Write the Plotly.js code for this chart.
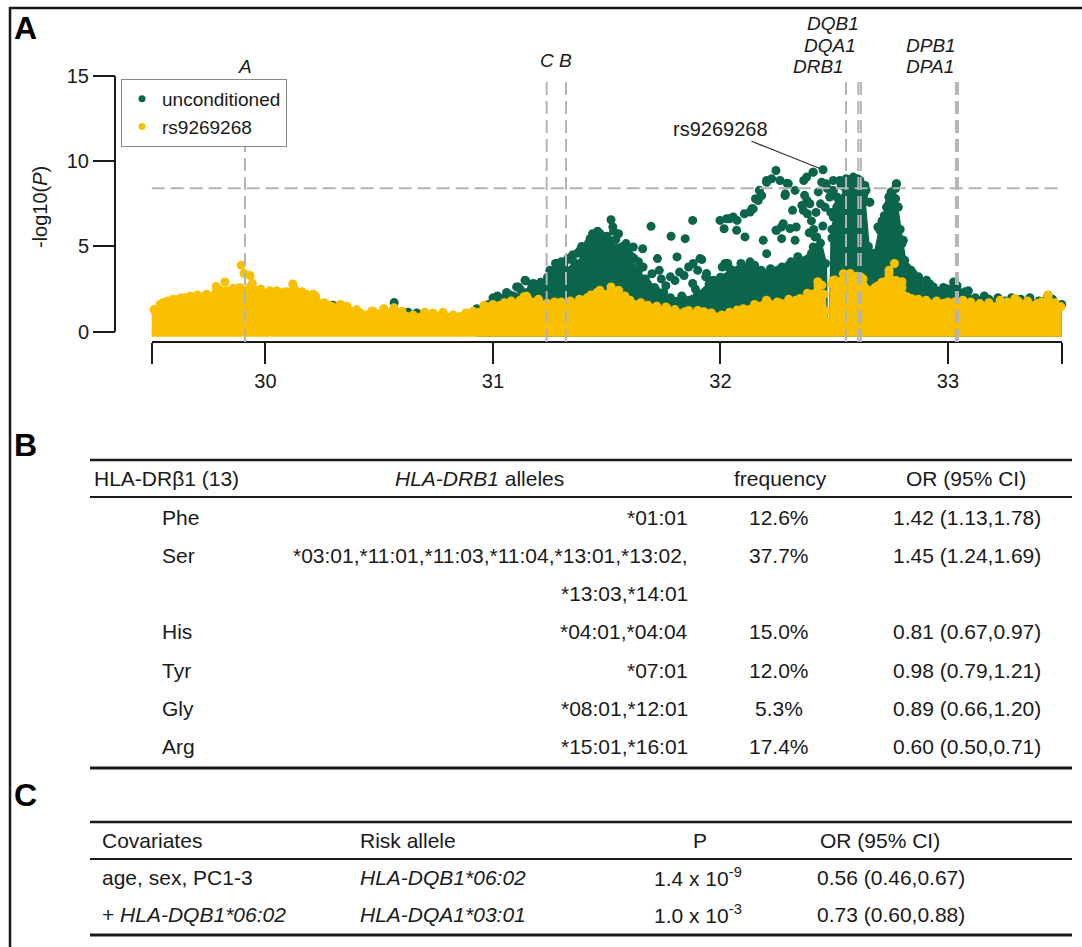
<!DOCTYPE html>
<html><head><meta charset="utf-8">
<script src="https://cdn.plot.ly/plotly-3.0.1.min.js"></script>
<style>html,body{margin:0;padding:0;background:#fff}#chart{width:1082px;height:947px}</style>
</head><body><div id="chart"></div><script>
// ---------------- DATA ----------------
// Panel A: -log10(P) along chr6 position (Mb)
const seriesNames = ['unconditioned', 'rs9269268'];

// dense lower mass of the unconditioned series (upper edge of the point cloud)
const uncondBodyX = [30.93,30.98,31.03,31.09,31.15,31.2,31.24,31.28,31.32,31.36,31.4,31.44,31.48,31.52,31.56,31.6,31.64,31.68,31.72,31.78,31.84,31.9,31.95,32.0,32.05,32.1,32.15,32.2,32.25,32.3,32.35,32.4,32.44,32.462,32.466,32.484,32.49,32.52,32.55,32.6,32.63,32.65,32.68,32.71,32.74,32.77,32.79,32.81,32.84,32.87,32.9,32.95,33.0,33.03,33.07,33.12,33.18,33.25,33.32,33.4,33.44,33.5];
const uncondBodyY = [1.2,1.6,1.9,2.1,2.3,2.6,3.2,3.7,3.6,4.0,4.4,4.9,5.0,5.2,4.6,4.2,3.6,2.8,2.4,2.0,1.9,2.2,2.8,3.2,3.6,3.8,3.9,3.4,3.6,3.9,4.2,4.6,5.2,4.0,0.6,0.6,6.0,7.5,8.4,8.5,8.0,5.0,4.6,6.5,7.5,7.8,6.0,4.2,3.5,2.9,2.6,2.4,2.5,2.9,2.2,2.0,1.9,1.8,1.9,1.8,2.1,1.6];

// individual unconditioned SNPs standing above the mass
const uncondX = [30.225,30.297,30.566,30.627,30.665,30.929,31.0,31.03,31.075,31.112,31.141,31.178,31.236,31.28,31.3,31.383,31.427,31.441,31.471,
 31.047,31.104,31.145,31.194,31.234,31.275,31.291,31.316,31.381,31.405,31.438,31.451,31.471,31.487,31.519,31.527,31.552,31.585,31.617,31.658,31.695,31.723,31.731,31.783,31.809,31.845,31.878,31.918,31.78,31.699,31.878,31.935,31.983,32.008,32.032,32.073,32.016,32.04,32.073,32.105,32.138,32.154,32.171,32.203,32.244,32.285,32.293,32.317,32.268,32.244,32.333,32.358,32.366,32.407,32.382,32.415,32.423,32.451,32.464,32.496,32.512,32.496,32.553,32.602,32.635,32.654,32.692,32.74,32.773,32.757,32.781,32.798,32.838,32.871,33.025,33.074,33.131,33.44,
 31.91,31.939,31.969,32.02,32.035,32.1,31.998,32.027,32.056,32.071,32.108,32.13,32.144,32.166,32.181,32.203,32.225,32.262,32.298,32.328,32.284,32.247,32.276,32.306,32.269,32.328,32.364,32.393,32.379,32.408,32.445,32.423,32.437,32.408,32.188,32.203,32.306,32.496,32.525,32.511,32.584,32.613,32.657,32.701,32.745,32.774,32.782,32.73,32.76,32.804,32.818,32.848,32.906,32.936,
 32.37,32.38,32.4,32.41,32.42,32.43,32.44,32.39,32.45,32.46,32.47,32.48,32.485,32.49,32.72,32.73,32.75,32.76,32.77,32.76,32.74,32.78,32.79,32.53,32.56,32.58,32.6,32.62,32.64,
 31.33,31.35,31.37,31.39,31.42,31.45,31.46,31.5,31.53,31.54,31.57,31.59,31.6,31.62,31.64,31.66,31.25,31.27,
 31.74,31.76,31.8,31.82,31.84,31.86,31.88,31.9,
 31.02,31.06,31.12,31.17,31.21,31.26,31.31,31.35,31.41,31.47,31.51,31.55,31.61,31.67,31.71,31.75,31.83,31.89,31.96,32.04,32.09,32.13,32.18,32.22,32.27,32.31,32.34,32.42,32.87,32.92,32.98,33.04,33.09,33.16,33.22,33.28,33.36,33.46];
const uncondY = [1.74,1.55,1.71,1.15,1.1,1.35,1.99,1.96,2.15,2.63,3.02,2.83,2.67,4.0,4.1,4.78,5.46,5.65,5.75,
 1.95,2.63,2.98,2.44,2.63,4.0,3.6,4.1,4.68,4.87,5.75,5.36,5.56,5.17,6.57,6.14,5.75,5.17,4.97,4.87,6.18,4.29,3.6,5.6,4.39,5.46,6.53,4.23,3.22,3.4,2.83,3.22,2.63,3.8,4.0,3.6,6.04,6.63,6.53,6.92,7.21,7.8,8.3,8.87,9.46,8.09,8.71,7.12,6.14,5.95,6.14,7.41,8.87,9.36,6.92,5.56,4.68,9.5,8.68,8.87,7.9,6.73,8.97,8.97,8.58,7.6,6.14,7.9,8.67,6.92,5.95,5.17,3.6,3.22,2.92,2.34,1.85,2.14,
 4.29,3.41,3.02,4.0,3.22,3.7,6.53,6.63,6.73,5.95,5.56,7.02,7.21,7.7,7.99,8.77,8.97,8.87,8.68,8.29,7.99,5.95,6.34,6.05,5.46,5.36,7.12,7.51,9.07,9.36,8.77,5.56,4.49,4.97,5.36,4.58,3.8,8.29,8.87,7.31,9.07,8.87,7.6,5.95,7.7,8.68,7.31,4.39,5.56,5.36,3.8,3.41,3.02,2.63,
 8.0,7.7,6.5,6.0,7.0,8.2,7.5,5.8,6.2,7.3,8.4,7.9,7.0,5.5,6.8,7.3,8.2,7.9,8.4,6.4,5.2,4.8,4.5,8.6,8.8,8.7,8.8,8.6,8.3,
 4.3,4.5,4.6,5.0,5.2,5.4,5.9,5.6,5.9,5.4,5.0,4.7,4.5,4.3,4.1,3.8,3.6,3.4,
 3.1,2.7,3.0,3.5,3.3,3.8,4.0,3.6,
 2.1,2.3,2.5,2.6,2.9,3.5,3.9,4.2,4.6,5.2,5.4,4.9,4.4,3.1,2.6,2.3,2.1,2.5,3.0,3.7,4.0,4.1,3.6,3.7,3.8,4.1,4.4,4.8,3.1,2.8,2.6,2.7,2.4,2.1,2.0,2.0,2.0,1.9];

// dense mass of the rs9269268-conditioned series (upper edge)
const condBodyX = [29.487,29.51,29.537,29.57,29.594,29.65,29.712,29.75,29.783,29.83,29.888,29.93,29.962,30.006,30.064,30.121,30.152,30.209,30.24,30.297,30.358,30.416,30.473,30.561,30.649,30.737,30.825,30.913,30.974,31.031,31.119,31.15,31.238,31.326,31.414,31.458,31.519,31.602,31.681,31.765,31.844,31.927,32.006,32.073,32.205,32.266,32.332,32.398,32.429,32.455,32.462,32.466,32.484,32.49,32.495,32.561,32.627,32.657,32.692,32.741,32.772,32.798,32.82,32.904,32.983,33.066,33.146,33.229,33.308,33.391,33.44,33.497];
const condBodyY = [0.9,1.3,1.6,1.8,1.9,2.0,2.05,2.1,2.3,2.4,2.6,2.6,2.44,2.26,2.3,2.5,2.26,2.2,1.67,1.46,1.5,1.1,1.2,1.27,0.98,1.1,0.98,1.2,1.46,1.55,1.85,2.0,1.67,1.67,2.0,2.3,2.4,1.85,1.56,1.38,1.17,1.17,0.98,1.27,1.8,1.67,1.85,2.2,2.7,2.2,1.2,0.6,0.6,2.8,3.0,3.3,3.1,2.4,2.7,3.4,3.0,2.6,2.05,1.85,1.67,1.8,1.56,1.67,1.8,1.65,2.0,1.46];

// individual conditioned SNPs on the upper edge
const condX = [29.611,29.783,29.822,29.893,29.906,29.932,29.942,30.12,30.126,30.181,30.467,30.565,31.148,31.136,31.47,31.519,31.552,32.202,32.382,32.428,32.446,32.503,32.57,32.618,32.741,32.765,32.798,32.657,33.44,33.229,33.294,33.066,
 29.7,29.98,30.05,30.26,30.33,30.7,30.88,31.0,31.08,31.3,31.38,31.65,31.72,31.8,31.9,32.1,32.15,32.3,32.87,32.95,33.0,33.1,33.18,33.35,33.47,
 29.55,29.63,29.67,29.74,29.8,29.86,30.02,30.09,30.16,30.22,30.28,30.4,30.52,30.6,30.78,30.96,31.05,31.2,31.27,31.34,31.43,31.58,31.76,31.86,31.96,32.04,32.25,32.35,32.54,32.6,32.68,32.71,32.84,33.03,33.14,33.26,33.41];
const condY = [1.87,2.66,2.92,3.9,3.41,3.3,2.84,2.8,2.55,2.2,1.2,1.4,2.08,2.05,2.43,2.63,2.43,1.85,2.26,2.93,2.73,3.03,3.42,3.2,3.61,4.0,2.93,2.44,2.14,1.85,1.95,1.85,
 2.15,2.5,2.4,1.7,1.6,1.15,1.1,1.6,1.8,1.75,1.9,1.7,1.5,1.3,1.25,1.35,1.6,1.9,1.9,1.8,1.75,1.75,1.7,1.8,1.7,
 1.7,2.0,2.1,2.2,2.45,2.55,2.4,2.35,2.35,2.1,1.55,1.3,1.35,1.2,1.15,1.55,1.7,1.9,1.75,1.8,2.15,2.1,1.45,1.25,1.1,1.15,1.75,1.95,3.4,3.25,2.6,2.9,1.95,1.75,1.65,1.75,1.75];

const threshold = 8.42;
const geneNames = ['A','C','B','DRB1','DQA1','DQB1','DPA1','DPB1'];
const genePos   = [29.91,31.236,31.321,32.552,32.606,32.617,33.035,33.044];
const xTickVals = [30,31,32,33];
const xEndTicks = [29.5,33.5];
const yTickVals = [0,5,10,15];
const topSnp = {name:'rs9269268', x:32.451, y:9.5};

// Panel B table
const bHeaders  = ['HLA-DRβ1 (13)','<i>HLA-DRB1</i> alleles','frequency','OR (95% CI)'];
const residues  = ['Phe','Ser','His','Tyr','Gly','Arg'];
const alleles   = [['*01:01'],['*03:01,*11:01,*11:03,*11:04,*13:01,*13:02,','*13:03,*14:01'],['*04:01,*04:04'],['*07:01'],['*08:01,*12:01'],['*15:01,*16:01']];
const freqs     = ['12.6%','37.7%','15.0%','12.0%','5.3%','17.4%'];
const orB       = ['1.42 (1.13,1.78)','1.45 (1.24,1.69)','0.81 (0.67,0.97)','0.98 (0.79,1.21)','0.89 (0.66,1.20)','0.60 (0.50,0.71)'];

// Panel C table
const cHeaders   = ['Covariates','Risk allele','P','OR (95% CI)'];
const covariates = ['age, sex, PC1-3','+ <i>HLA-DQB1*06:02</i>'];
const riskAllele = ['HLA-DQB1*06:02','HLA-DQA1*03:01'];
const pMant      = ['1.4','1.0'];
const pExp       = ['-9','-3'];
const orC        = ['0.56 (0.46,0.67)','0.73 (0.60,0.88)'];

// ---------------- STYLE / LAYOUT ----------------
const W = 1082, H = 947;
const px = v => v / W, py = v => 1 - v / H;
const GREEN = '#0a654a', YELLOW = '#f9c000', DASH = '#b3b3b3', INK = '#1a1a1a';
const FONT = 'Arial, "Liberation Sans", Helvetica, sans-serif';
const BASE = -0.2;
const closeX = a => a.concat([a[a.length-1], a[0]]);
const closeY = a => a.concat([BASE, BASE]);
const body = (x, y, c) => ({type:'scatter', mode:'lines', x:closeX(x), y:closeY(y), fill:'toself', fillcolor:c, line:{color:c,width:3}, hoverinfo:'skip', showlegend:false});
const dots = (x, y, c) => ({type:'scatter', mode:'markers', x:x, y:y, marker:{size:9,color:c}, cliponaxis:false, hoverinfo:'skip', showlegend:false});

const traces = [
  body(uncondBodyX, uncondBodyY, GREEN),
  dots(uncondBodyX, uncondBodyY, GREEN),
  dots(uncondX, uncondY, GREEN),
  body(condBodyX, condBodyY, YELLOW),
  dots(condBodyX, condBodyY, YELLOW),
  dots(condX, condY, YELLOW),
  {type:'scatter', mode:'markers', x:[null], y:[null], name:seriesNames[0], marker:{size:7,color:GREEN}},
  {type:'scatter', mode:'markers', x:[null], y:[null], name:seriesNames[1], marker:{size:7,color:YELLOW}}
];

const shapes = [];
const annotations = [];
// outer frame (top and left edges visible)
shapes.push({type:'rect', xref:'paper', yref:'paper', x0:px(10), x1:1.02, y0:-0.02, y1:py(8), line:{color:INK,width:2.5}});
// y-axis line from 0 to 15
shapes.push({type:'line', xref:'paper', yref:'y', x0:px(115), x1:px(115), y0:0, y1:15, line:{color:INK,width:2}});
// threshold
shapes.push({type:'line', xref:'x', yref:'y', x0:29.5, x1:33.5, y0:threshold, y1:threshold, layer:'above', line:{color:DASH,width:2,dash:'13px,6px'}});
// gene lines + labels
const geneLabelCfg = {A:['center',66], C:['center',61], B:['center',61], DRB1:['right',66], DQA1:['right',45], DQB1:['right',24], DPA1:['right',67], DPB1:['right',45]};
geneNames.forEach((g,i) => {
  shapes.push({type:'line', xref:'x', yref:'paper', x0:genePos[i], x1:genePos[i], y0:py(342), y1:py(77), layer:'above', line:{color:DASH,width:2,dash:'13px,6px'}});
  const c = geneLabelCfg[g];
  annotations.push({xref:'x', yref:'paper', x:genePos[i], y:py(c[1]), xanchor:c[0], yanchor:'middle', showarrow:false, text:'<i>'+g+'</i>', font:{size:19,color:INK,family:FONT}});
});
// top SNP label
annotations.push({xref:'x', yref:'y', x:topSnp.x, y:topSnp.y, text:topSnp.name, showarrow:true, arrowhead:0, arrowwidth:1.2, arrowcolor:'#333', ax:-103, ay:-41, standoff:4, font:{size:20,color:INK,family:FONT}});
// panel letters
[['A',28],['B',445],['C',795]].forEach(p => annotations.push({xref:'paper', yref:'paper', x:px(25), y:py(p[1]), xanchor:'center', yanchor:'middle', showarrow:false, text:'<b>'+p[0]+'</b>', font:{size:32,color:'#000',family:FONT}}));

const TF = 21;
const txt = (x, y, text, anchor) => annotations.push({xref:'paper', yref:'paper', x:px(x), y:py(y), xanchor:anchor, yanchor:'middle', showarrow:false, text:text, font:{size:TF,color:INK,family:FONT}});
const rule = (y, w) => shapes.push({type:'line', xref:'paper', yref:'paper', x0:px(90), x1:px(1072), y0:py(y), y1:py(y), line:{color:INK,width:w}});

// Table B
rule(460, 2.5); rule(497, 2); rule(768, 3);
txt(92, 478, bHeaders[0], 'left');
txt(479, 478, bHeaders[1], 'center');
txt(780, 478, bHeaders[2], 'center');
txt(966, 478, bHeaders[3], 'center');
let line = 0;
residues.forEach((r,i) => {
  const y0 = 517 + 38.3*line;
  txt(160, y0, r, 'left');
  txt(779, y0, freqs[i], 'center');
  txt(967, y0, orB[i], 'center');
  alleles[i].forEach(a => { txt(690, 517 + 38.3*line, a, 'right'); line++; });
});

// Table C
rule(822, 2.5); rule(859, 2); rule(935, 3);
txt(100, 840, cHeaders[0], 'left');
txt(358, 840, cHeaders[1], 'left');
txt(700, 840, cHeaders[2], 'center');
txt(818, 840, cHeaders[3], 'left');
covariates.forEach((c,i) => {
  const y0 = 877 + 37*i;
  txt(100, y0, c, 'left');
  txt(358, y0, '<i>'+riskAllele[i]+'</i>', 'left');
  txt(698, y0, pMant[i]+' x 10<sup>'+pExp[i]+'</sup>', 'center');
  txt(815, y0, orC[i], 'left');
});

const layout = {
  width:W, height:H, margin:{l:0,r:0,t:0,b:0}, paper_bgcolor:'#fff', plot_bgcolor:'rgba(0,0,0,0)',
  font:{family:FONT, color:INK, size:20},
  showlegend:true,
  legend:{x:px(121), y:py(79), xanchor:'left', yanchor:'top', bordercolor:'#8a8a8a', borderwidth:1, bgcolor:'#fff', font:{size:19,color:INK,family:FONT}, tracegroupgap:0, itemwidth:30},
  xaxis:{domain:[px(151.7), px(1061.7)], range:[29.5,33.5], anchor:'free', position:py(341.7), showline:true, linecolor:INK, linewidth:2,
         ticks:'outside', ticklen:21, tickwidth:2, tickcolor:INK, tickvals:xTickVals, tickfont:{size:20,color:INK,family:FONT},
         minor:{tickvals:xEndTicks, ticks:'outside', ticklen:21, tickwidth:2, tickcolor:INK, showgrid:false},
         showgrid:false, zeroline:false, fixedrange:true},
  yaxis:{domain:[py(337.7), py(76)], range:[-0.35,15], anchor:'free', position:px(115), showline:false,
         ticks:'outside', ticklen:22, tickwidth:2, tickcolor:INK, tickvals:yTickVals, tickfont:{size:20,color:INK,family:FONT},
         showgrid:false, zeroline:false, fixedrange:true,
         title:{text:'-log10(<i>P</i>)', font:{size:20,color:INK,family:FONT}, standoff:12}},
  shapes:shapes, annotations:annotations
};
Plotly.newPlot('chart', traces, layout, {displayModeBar:false, staticPlot:true});
</script></body></html>
